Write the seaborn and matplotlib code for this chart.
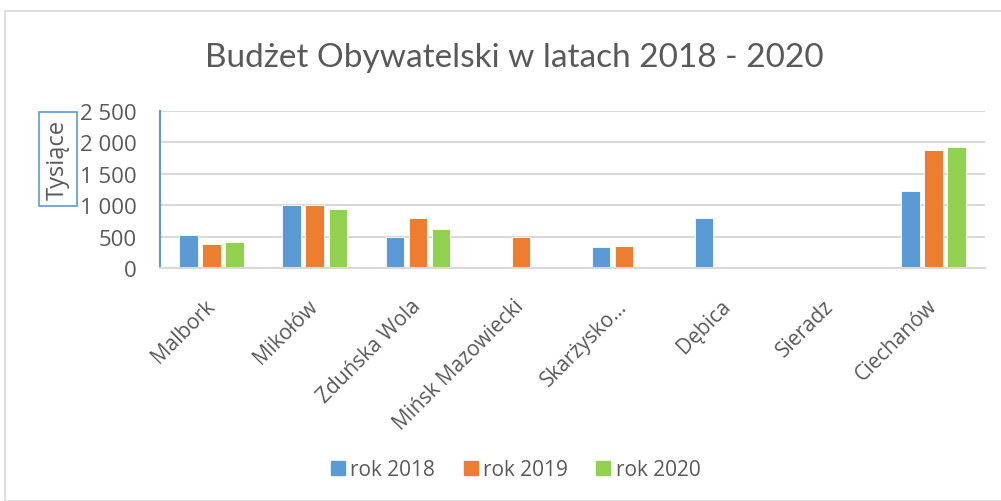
import numpy as np
import pandas as pd
import seaborn as sns
import matplotlib.pyplot as plt
from matplotlib.patches import Rectangle
from matplotlib.lines import Line2D
from matplotlib.ticker import FuncFormatter

# values (thousands)
cities = ["Malbork", "Mikołów", "Zduńska Wola", "Mińsk Mazowiecki",
          "Skarżysko…", "Dębica", "Sieradz", "Ciechanów"]
rok_2018 = [530, 1000, 490, None, 340, 790, None, 1220]
rok_2019 = [380, 1000, 800, 490, 350, None, None, 1880]
rok_2020 = [420, 940, 620, None, None, None, None, 1920]
years = ["rok 2018", "rok 2019", "rok 2020"]
colors = ["#5B9BD5", "#ED7D31", "#92D050"]

rows = []
for year, vals in zip(years, [rok_2018, rok_2019, rok_2020]):
    for city, v in zip(cities, vals):
        rows.append({"Miasto": city, "Rok": year, "Kwota": v})
df = pd.DataFrame(rows).dropna()

sns.set_theme(style="white")
plt.rcParams["font.family"] = ["Open Sans", "DejaVu Sans"]
text_color = "#595959"

fig = plt.figure(figsize=(10.01, 5.02), dpi=100)
ax = fig.add_axes([160 / 1001, 233 / 502, 825 / 1001, 157 / 502])

sns.barplot(data=df, x="Miasto", y="Kwota", hue="Rok", order=cities,
            hue_order=years, palette=colors, saturation=1, width=0.67, gap=0.2,
            edgecolor="white", linewidth=0.6, ax=ax, legend=False)

ax.set_ylim(0, 2500)
ax.set_yticks(range(0, 2501, 500))
ax.yaxis.set_major_formatter(FuncFormatter(lambda v, p: f"{int(v):,}".replace(",", " ")))
ax.grid(axis="y", color="#D9D9D9", linewidth=1.5)
ax.set_axisbelow(True)
for s in ["top", "right"]:
    ax.spines[s].set_visible(False)
ax.spines["left"].set_color("#5B9BD5")
ax.spines["left"].set_linewidth(1.5)
ax.spines["bottom"].set_color("#D9D9D9")
ax.spines["bottom"].set_linewidth(1.5)
ax.tick_params(axis="y", direction="in", length=6, width=1.5, color="#5B9BD5",
               labelsize=16, labelcolor=text_color, pad=17)
ax.tick_params(axis="x", length=0, labelsize=15, labelcolor=text_color, pad=25)
plt.setp(ax.get_xticklabels(), rotation=45, ha="right", va="center",
         rotation_mode="anchor")
ax.set_xlabel("")
ax.set_ylabel("")

# y axis title in a box
fig.text(58 / 1001, 1 - 160 / 502, "Tysiące", rotation=90, ha="center", va="center",
         fontsize=17, color=text_color,
         bbox=dict(boxstyle="square,pad=0.3", facecolor="white",
                   edgecolor="#5B9BD5", linewidth=1.2))

fig.text(514 / 1001, 1 - 58 / 502, "Budżet Obywatelski w latach 2018 - 2020",
         ha="center", va="center", fontsize=24, color=text_color,
         family=["Lato", "DejaVu Sans"])

handles = [Line2D([], [], marker="s", linestyle="", markersize=10, color=c) for c in colors]
fig.legend(handles, years, loc="center", bbox_to_anchor=(516 / 1001, 1 - 471 / 502),
           ncol=3, frameon=False, fontsize=15, labelcolor=text_color,
           handlelength=0.6, handletextpad=0.3, columnspacing=1.4)

fig.patches.append(Rectangle((5 / 1001, 0), 1.0, 1 - 12 / 502, transform=fig.transFigure,
                             fill=False, edgecolor="#D9D9D9", linewidth=1.2))

fig.savefig("out.png", dpi=100, facecolor="white")
